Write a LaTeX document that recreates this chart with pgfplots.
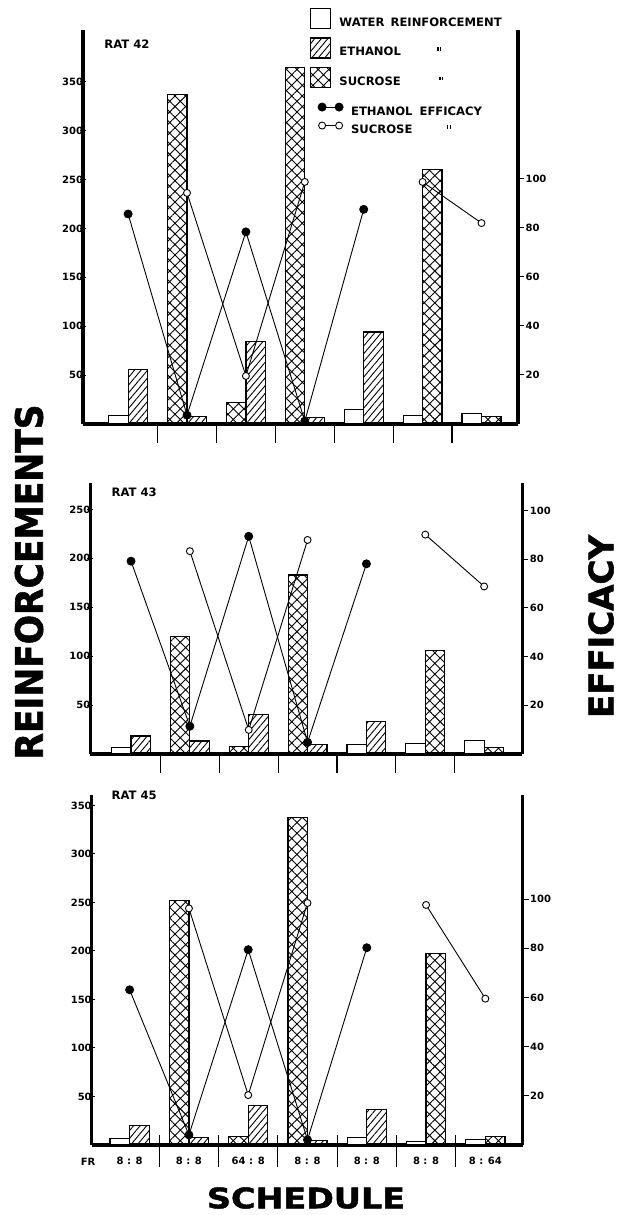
\documentclass[border=0pt]{standalone}
\usepackage{fontspec}
\setmainfont{DejaVu Sans}
\newfontfamily\heavy{DejaVu Sans}[BoldFeatures={FakeBold=1.5}]
\usepackage{pgfplots}
\pgfplotsset{compat=1.18}
\usetikzlibrary{patterns.meta}

\newcommand{\tf}{\fontsize{10}{12}\selectfont\bfseries}
\newcommand{\lf}{\fontsize{11.6}{13}\selectfont\bfseries}
\newcommand{\ditto}{\raisebox{5pt}{\rule{1.2pt}{3.5pt}\hspace{1.6pt}\rule{1.2pt}{3.5pt}}}

\pgfplotsset{
  noarrows/.style={
    axis line style={-, line width=3.5pt},
    every outer x axis line/.append style={-},
    every outer y axis line/.append style={-},
    every inner x axis line/.append style={-},
    every inner y axis line/.append style={-},
    x axis line style={-}, y axis line style={-},
  },
  panel/.style={
    scale only axis, clip=false, ymin=0,
    /pgf/number format/assume math mode=true,
    tick label style={font=\tf},
    tick align=outside, major tick length=6pt,
    tick style={line width=1pt, black},
  },
  barax/.style={panel, axis x line=bottom, axis y line=left, noarrows, xtick=\empty,
    yticklabel style={xshift=6.5pt},
    legend image code/.code={\draw[##1] (0pt,-6pt) rectangle (20pt,14pt);},
  },
  effax/.style={panel, axis x line=none, axis y line*=right, noarrows, xtick=\empty,
    ytick={20,40,...,100}, yticklabel style={xshift=-2pt},
    legend image code/.code={\draw[##1] plot coordinates {(3.5pt,4pt) (20.5pt,4pt)};},
  },
  water/.style={ybar, bar width=0.33, bar shift=-0.165, draw=black, line width=1.2pt, fill=white},
  ethanol/.style={ybar, bar width=0.33, bar shift=0.165, draw=black, line width=1.2pt,
    pattern={Lines[angle=50,distance=5pt,line width=0.9pt]}},
  sucL/.style={ybar, bar width=0.33, bar shift=-0.165, draw=black, line width=1.2pt,
    pattern={Hatch[angle=45,distance=7.5pt,line width=0.9pt]}},
  sucR/.style={sucL, bar shift=0.165},
  divider/.style={ycomb, no marks, black, line width=1.2pt, forget plot},
  effE/.style={black, line width=0.9pt, mark=*, mark size=4pt, mark options={solid, fill=black}},
  effS/.style={black, line width=0.9pt, mark=*, mark size=3.5pt,
    mark options={solid, fill=white}, unbounded coords=jump},
  leg/.style={legend style={draw=none, fill=none, inner sep=0pt, row sep=#1, column sep=8pt,
    font=\lf, nodes={inner sep=0pt, text height=8pt, text depth=0pt}}, legend cell align=left},
}

\begin{document}
\begin{tikzpicture}
\useasboundingbox (0pt,0pt) rectangle (625pt,1215pt);

% ---------------- RAT 42 ----------------
\begin{axis}[barax, at={(83pt,791pt)}, anchor=south west, width=435pt, height=394pt,
  xmin=-0.766, xmax=6.62, ymax=403, ytick={50,100,...,350},
  leg=8pt, legend style={at={(axis description cs:0.522,1.056)}, anchor=north west}]
\addplot[water] coordinates {(0,9)(4,15)(5,9)(6,11)};
\addlegendentry{WATER\hspace{6pt}REINFORCEMENT}
\addplot[ethanol] coordinates {(0,56)(1,8)(2,84)(3,7)(4,94)};
\addlegendentry{\makebox[98pt][l]{ETHANOL}\ditto}
\addplot[sucL] coordinates {(1,337)(2,22)(3,365)};
\addlegendentry{\makebox[100pt][l]{SUCROSE}\ditto}
\addplot[sucR, forget plot] coordinates {(5,260)(6,8)};
\addplot[divider] coordinates {(0.5,-19)(1.5,-19)(2.5,-19)(3.5,-19)(4.5,-19)(5.5,-19)};
\node[anchor=west, font=\lf] at (rel axis cs:0.041,0.964) {RAT 42};
\end{axis}
\begin{axis}[effax, at={(83pt,791pt)}, anchor=south west, width=435pt, height=394pt,
  xmin=-0.766, xmax=6.62, ymax=160.8,
  leg=7pt, legend style={at={(axis description cs:0.540,0.815)}, anchor=north west}]
\addplot[effE] coordinates {(0,85.7)(1,3.6)(2,78.4)(3,1.2)(4,87.6)};
\addlegendentry{ETHANOL\hspace{7pt}EFFICACY}
\addplot[effS] coordinates {(1,94.3)(2,19.6)(3,98.8)(4,nan)(5,98.8)(6,82)};
\addlegendentry{\makebox[96pt][l]{SUCROSE}\ditto}
\end{axis}

% ---------------- RAT 43 ----------------
\begin{axis}[barax, at={(90.4pt,461pt)}, anchor=south west, width=432pt, height=271pt,
  xmin=-0.69, xmax=6.65, ymax=277, ytick={50,100,...,250}]
\addplot[water] coordinates {(0,6.4)(4,9.8)(5,10.8)(6,14.2)};
\addplot[ethanol] coordinates {(0,18.3)(1,13.2)(2,40)(3,9.8)(4,33.6)};
\addplot[sucL] coordinates {(1,120.5)(2,7.4)(3,183)};
\addplot[sucR] coordinates {(5,106)(6,6.4)};
\addplot[divider] coordinates {(0.5,-19)(1.5,-19)(2.5,-19)(3.5,-19)(4.5,-19)(5.5,-19)};
\node[anchor=west, font=\lf] at (rel axis cs:0.041,0.965) {RAT 43};
\end{axis}
\begin{axis}[effax, at={(90.4pt,461pt)}, anchor=south west, width=432pt, height=271pt,
  xmin=-0.69, xmax=6.65, ymax=111.3]
\addplot[effE] coordinates {(0,79.2)(1,11.4)(2,89.4)(3,4.8)(4,78.1)};
\addplot[effS] coordinates {(1,83.3)(2,9.9)(3,87.9)(4,nan)(5,90.1)(6,68.8)};
\end{axis}

% ---------------- RAT 45 ----------------
\begin{axis}[barax, at={(91.7pt,70pt)}, anchor=south west, width=431pt, height=350pt,
  xmin=-0.64, xmax=6.63, ymax=360.8, ytick={50,100,...,350},
  xtick={0,...,6}, xticklabels={8 : 8, 8 : 8, 64 : 8, 8 : 8, 8 : 8, 8 : 8, 8 : 64},
  xtick style={draw=none}, xticklabel style={anchor=base, yshift=-17pt}]
\addplot[water] coordinates {(0,6.4)(4,7.7)(5,3.3)(6,6)};
\addplot[ethanol] coordinates {(0,19.8)(1,7.7)(2,41)(3,4.6)(4,36.6)};
\addplot[sucL] coordinates {(1,251.7)(2,9)(3,337.6)};
\addplot[sucR] coordinates {(5,197)(6,8.4)};
\addplot[divider] coordinates {(0.5,-22.7)(1.5,-22.7)(2.5,-22.7)(3.5,-22.7)(4.5,-22.7)(5.5,-22.7)};
\addplot[divider] coordinates {(0.5,10.3)(1.5,10.3)(2.5,10.3)(3.5,10.3)(4.5,10.3)(5.5,10.3)};
\node[anchor=west, font=\lf] at (rel axis cs:0.038,0.999) {RAT 45};
\node[anchor=base, font=\tf] at (axis cs:-0.70,0) [yshift=-21pt] {FR};
\end{axis}
\begin{axis}[effax, at={(91.7pt,70pt)}, anchor=south west, width=431pt, height=350pt,
  xmin=-0.64, xmax=6.63, ymax=142.3]
\addplot[effE] coordinates {(0,63.1)(1,4.1)(2,79.4)(3,2.1)(4,80.2)};
\addplot[effS] coordinates {(1,96.2)(2,20.3)(3,98.4)(4,nan)(5,97.6)(6,59.5)};
\end{axis}

% axis titles
\node[rotate=90, inner sep=0pt] at (29pt,633pt) {\resizebox{355pt}{28pt}{\heavy\bfseries REINFORCEMENTS}};
\node[rotate=90, inner sep=0pt] at (601pt,588.5pt) {\resizebox{183pt}{25pt}{\heavy\bfseries EFFICACY}};
\node[inner sep=0pt] at (306pt,17pt) {\resizebox{198pt}{21pt}{\heavy\bfseries SCHEDULE}};
\end{tikzpicture}
\end{document}
